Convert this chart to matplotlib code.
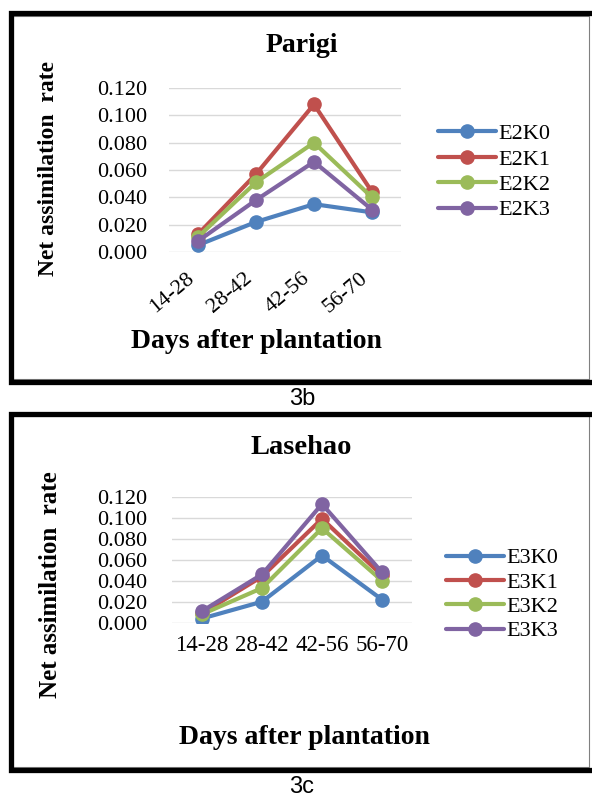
import matplotlib
matplotlib.use("Agg")
import matplotlib.pyplot as plt
from matplotlib.lines import Line2D

## Data
periods = ["14-28", "28-42", "42-56", "56-70"]

parigi_names = ["E2K0", "E2K1", "E2K2", "E2K3"]
E2K0 = [0.005, 0.022, 0.035, 0.029]
E2K1 = [0.013, 0.057, 0.108, 0.044]
E2K2 = [0.011, 0.051, 0.080, 0.040]
E2K3 = [0.008, 0.038, 0.066, 0.031]

lasehao_names = ["E3K0", "E3K1", "E3K2", "E3K3"]
E3K0 = [0.004, 0.020, 0.064, 0.022]
E3K1 = [0.009, 0.044, 0.099, 0.045]
E3K2 = [0.008, 0.033, 0.090, 0.040]
E3K3 = [0.011, 0.046, 0.113, 0.048]

yticks = [0.0, 0.02, 0.04, 0.06, 0.08, 0.10, 0.12]

colors = ["#4F81BD", "#C0504D", "#9BBB59", "#8064A2"]
serif = "Liberation Serif"

W, H = 592, 798
fig = plt.figure(figsize=(W / 100, H / 100), dpi=100)


def fx(x):
    return x / W


def fy(y):
    return 1 - y / H


def box(top, bottom):
    # thin gray frame of the pasted chart, then the thick black border (right side runs off the page)
    fig.add_artist(Line2D([fx(13), fx(589), fx(589), fx(13)],
                          [fy(top + 3), fy(top + 3), fy(bottom - 3), fy(bottom - 3)],
                          color="#808080", lw=0.8))
    fig.add_artist(Line2D([fx(600), fx(10.5), fx(10.5), fx(600)],
                          [fy(top), fy(top), fy(bottom), fy(bottom)],
                          color="black", lw=3.8, solid_joinstyle="miter"))


def panel(left, right, top, bottom, series, names, rotate, ypad, xpad):
    ax = fig.add_axes([fx(left), fy(bottom), fx(right) - fx(left), (bottom - top) / H])
    for vals, name, c in zip(series, names, colors):
        ax.plot(range(len(periods)), vals, color=c, lw=3, marker="o", ms=9.5,
                label=name, solid_capstyle="round")
    ax.set_xlim(-0.5, len(periods) - 0.5)
    ax.set_ylim(0, 0.12)
    ax.set_yticks(yticks)
    ax.set_yticklabels(["{:.3f}".format(v) for v in yticks], fontfamily=serif, fontsize=16)
    ax.set_xticks(range(len(periods)))
    if rotate:
        ax.set_xticklabels(periods, rotation=40, ha="right", fontfamily=serif, fontsize=16)
    else:
        ax.set_xticklabels(periods, fontfamily=serif, fontsize=16.5)
    ax.tick_params(axis="y", length=0, pad=ypad)
    ax.tick_params(axis="x", length=0, pad=xpad)
    ax.grid(axis="y", color="#d9d9d9", lw=1)
    ax.set_axisbelow(True)
    for s in ax.spines.values():
        s.set_visible(False)
    return ax


## Parigi (3b)
box(13, 382)
ax1 = panel(169, 401, 88, 252, [E2K0, E2K1, E2K2, E2K3], parigi_names, True, 16, 12)
fig.text(fx(302), fy(46), "Parigi", ha="center", va="center", fontfamily=serif,
         fontweight="bold", fontsize=20)
fig.text(fx(49), fy(168), "Net assimilation  rate", rotation=90, ha="center", va="center",
         fontfamily=serif, fontweight="bold", fontsize=17)
fig.text(fx(256), fy(342), "Days after plantation", ha="center", va="center",
         fontfamily=serif, fontweight="bold", fontsize=20)
ax1.legend(loc="center left", bbox_to_anchor=(fx(438), fy(172)),
           bbox_transform=fig.transFigure, frameon=False, borderpad=0,
           borderaxespad=0, handlelength=2.6, handletextpad=0.12,
           labelspacing=0.22, prop={"family": serif, "size": 16})
fig.text(fx(302), fy(399), "3b", ha="center", va="center", fontfamily="Liberation Sans",
         fontsize=17)

## Lasehao (3c)
box(413.5, 769.5)
ax2 = panel(172, 412, 496.7, 622.7, [E3K0, E3K1, E3K2, E3K3], lasehao_names, False, 18, 9)
fig.text(fx(301), fy(448), "Lasehao", ha="center", va="center", fontfamily=serif,
         fontweight="bold", fontsize=20.5)
fig.text(fx(51), fy(585), "Net assimilation  rate", rotation=90, ha="center", va="center",
         fontfamily=serif, fontweight="bold", fontsize=18)
fig.text(fx(304), fy(737), "Days after plantation", ha="center", va="center",
         fontfamily=serif, fontweight="bold", fontsize=20)
ax2.legend(loc="center left", bbox_to_anchor=(fx(446), fy(594.5)),
           bbox_transform=fig.transFigure, frameon=False, borderpad=0,
           borderaxespad=0, handlelength=2.6, handletextpad=0.12,
           labelspacing=0.17, prop={"family": serif, "size": 16})
fig.text(fx(302), fy(787), "3c", ha="center", va="center", fontfamily="Liberation Sans",
         fontsize=17)

fig.savefig("out.png", dpi=100)
